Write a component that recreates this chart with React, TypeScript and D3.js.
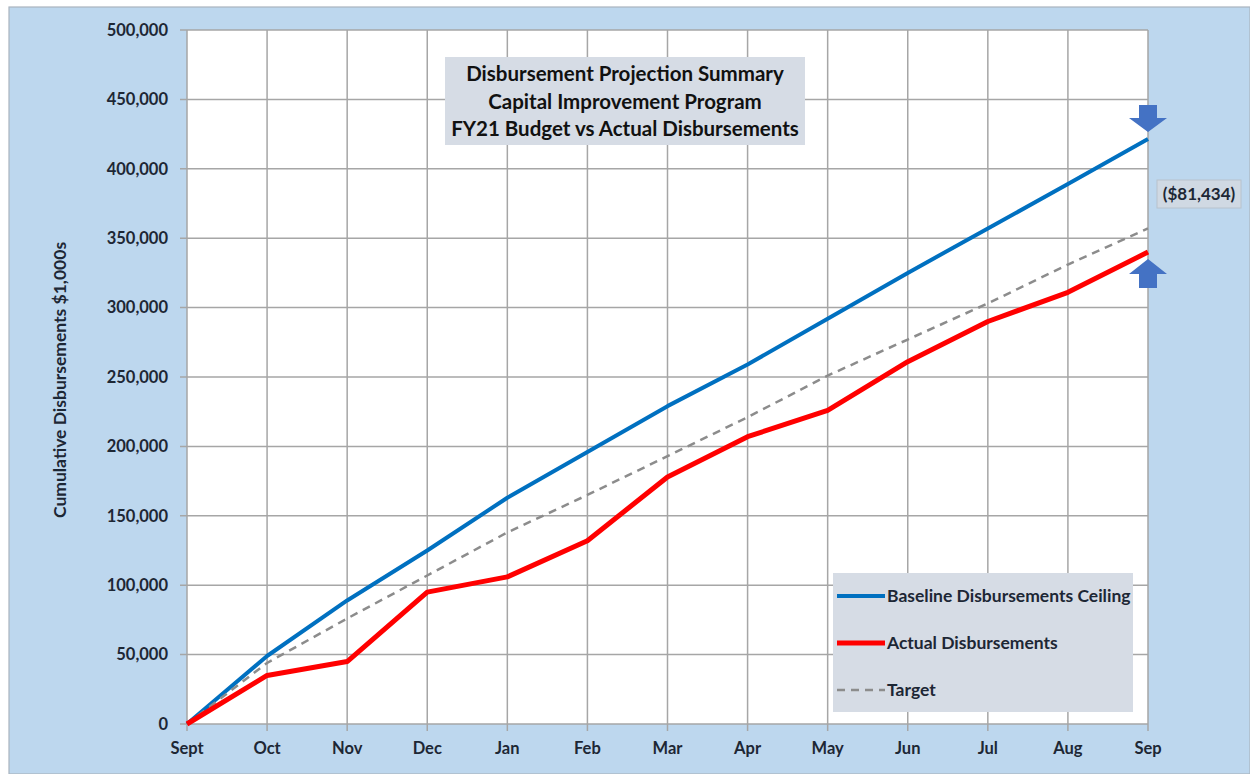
import React from "react";
import * as d3 from "d3";

const months = ["Sept", "Oct", "Nov", "Dec", "Jan", "Feb", "Mar", "Apr", "May", "Jun", "Jul", "Aug", "Sep"];
const baseline = [0, 49000, 89000, 125000, 163000, 196000, 229000, 259000, 292000, 325000, 357000, 389000, 421434];
const actual = [0, 35000, 45000, 95000, 106000, 132000, 178000, 207000, 226000, 261000, 290000, 311000, 340000];
const target = [0, 44000, 76000, 107000, 138000, 165000, 193000, 221000, 251000, 277000, 303000, 331000, 357000];
const yTicks = [0, 50000, 100000, 150000, 200000, 250000, 300000, 350000, 400000, 450000, 500000];
const titleLines = ["Disbursement Projection Summary", "Capital Improvement Program", "FY21 Budget vs Actual Disbursements"];
const legendItems = [
  { name: "Baseline Disbursements Ceiling", color: "#0070c0", dash: "", width: 4 },
  { name: "Actual Disbursements", color: "#ff0000", dash: "", width: 5 },
  { name: "Target", color: "#8c8c8c", dash: "8,6", width: 2.5 },
];
const varianceLabel = "($81,434)";

const W = 1250, H = 774;
const FONT = "Lato, 'Open Sans', sans-serif";
const TXT = "#1d2735";

export default function App() {
  const x = d3.scalePoint<string>().domain(months).range([187, 1148]);
  const y = d3.scaleLinear().domain([0, 500000]).range([724, 30]);
  const line = d3.line<number>().x((_, i) => x(months[i])!).y((d) => y(d));
  const fmt = d3.format(",");
  const lastX = x(months[months.length - 1])!;
  const yb = y(baseline[baseline.length - 1]);
  const ya = y(actual[actual.length - 1]);

  return (
    <svg width={W} height={H} style={{ position: "absolute", left: 0, top: 0 }} fontFamily={FONT}>
      <rect x={0} y={0} width={W} height={H} fill="#ffffff" />
      <rect x={9} y={7} width={W - 9} height={H - 7} fill="#bdd7ee" stroke="#a9b4bf" strokeWidth={1.2} />
      {/* plot area */}
      <rect x={187} y={30} width={1148 - 187} height={724 - 30} fill="#ffffff" />
      {/* horizontal grid */}
      {yTicks.map((t) => (
        <line key={"h" + t} x1={180} x2={1148} y1={y(t)} y2={y(t)} stroke="#a6a6a6" strokeWidth={1.5} />
      ))}
      {/* vertical grid */}
      {months.map((m) => (
        <line key={"v" + m} x1={x(m)} x2={x(m)} y1={30} y2={731} stroke="#a6a6a6" strokeWidth={1.5} />
      ))}
      {/* y tick labels */}
      {yTicks.map((t) => (
        <text key={"yl" + t} x={168} y={y(t)} dy="0.35em" textAnchor="end" fontSize={16.5} fontWeight="bold" fill={TXT}>
          {fmt(t)}
        </text>
      ))}
      {/* x tick labels */}
      {months.map((m) => (
        <text key={"xl" + m} x={x(m)} y={754} textAnchor="middle" fontSize={16.5} fontWeight="bold" fill={TXT}>
          {m}
        </text>
      ))}
      {/* y axis title */}
      <text transform="translate(66,380) rotate(-90)" textAnchor="middle" fontSize={17.5} fontWeight="bold" fill={TXT}>
        Cumulative Disbursements $1,000s
      </text>
      {/* series */}
      <path d={line(baseline)!} fill="none" stroke="#0070c0" strokeWidth={4} strokeLinejoin="round" />
      <path d={line(target)!} fill="none" stroke="#8c8c8c" strokeWidth={2.5} strokeDasharray="8,6" />
      <path d={line(actual)!} fill="none" stroke="#ff0000" strokeWidth={5} strokeLinejoin="round" />
      {/* title box */}
      <rect x={445} y={57} width={360} height={88} fill="#d6dce5" />
      {titleLines.map((t, i) => (
        <text key={t} x={625} y={74 + i * 27.5} dy="0.35em" textAnchor="middle" fontSize={20.5} fontWeight="bold" fill="#111">
          {t}
        </text>
      ))}
      {/* legend */}
      <rect x={833} y={573} width={300} height={139} fill="#d6dce5" />
      {legendItems.map((it, i) => (
        <g key={it.name} transform={`translate(0,${596 + i * 47})`}>
          <line x1={837} x2={885} y1={0} y2={0} stroke={it.color} strokeWidth={it.width} strokeDasharray={it.dash} />
          <text x={887} y={0} dy="0.35em" fontSize={17.5} fontWeight="bold" fill={TXT}>
            {it.name}
          </text>
        </g>
      ))}
      {/* arrows */}
      <path
        d={`M${lastX - 9},${yb - 34} L${lastX + 9},${yb - 34} L${lastX + 9},${yb - 21} L${lastX + 19},${yb - 21} L${lastX},${yb - 7} L${lastX - 19},${yb - 21} L${lastX - 9},${yb - 21} Z`}
        fill="#4472c4"
      />
      <path
        d={`M${lastX - 9},${ya + 36} L${lastX + 9},${ya + 36} L${lastX + 9},${ya + 22} L${lastX + 19},${ya + 22} L${lastX},${ya + 7} L${lastX - 19},${ya + 22} L${lastX - 9},${ya + 22} Z`}
        fill="#4472c4"
      />
      {/* variance label */}
      <rect x={1157} y={180} width={84} height={28} fill="#d0d9e3" stroke="#b8c2cc" strokeWidth={1} />
      <text x={1199} y={194} dy="0.35em" textAnchor="middle" fontSize={17} fontWeight="bold" fill={TXT}>
        {varianceLabel}
      </text>
    </svg>
  );
}
